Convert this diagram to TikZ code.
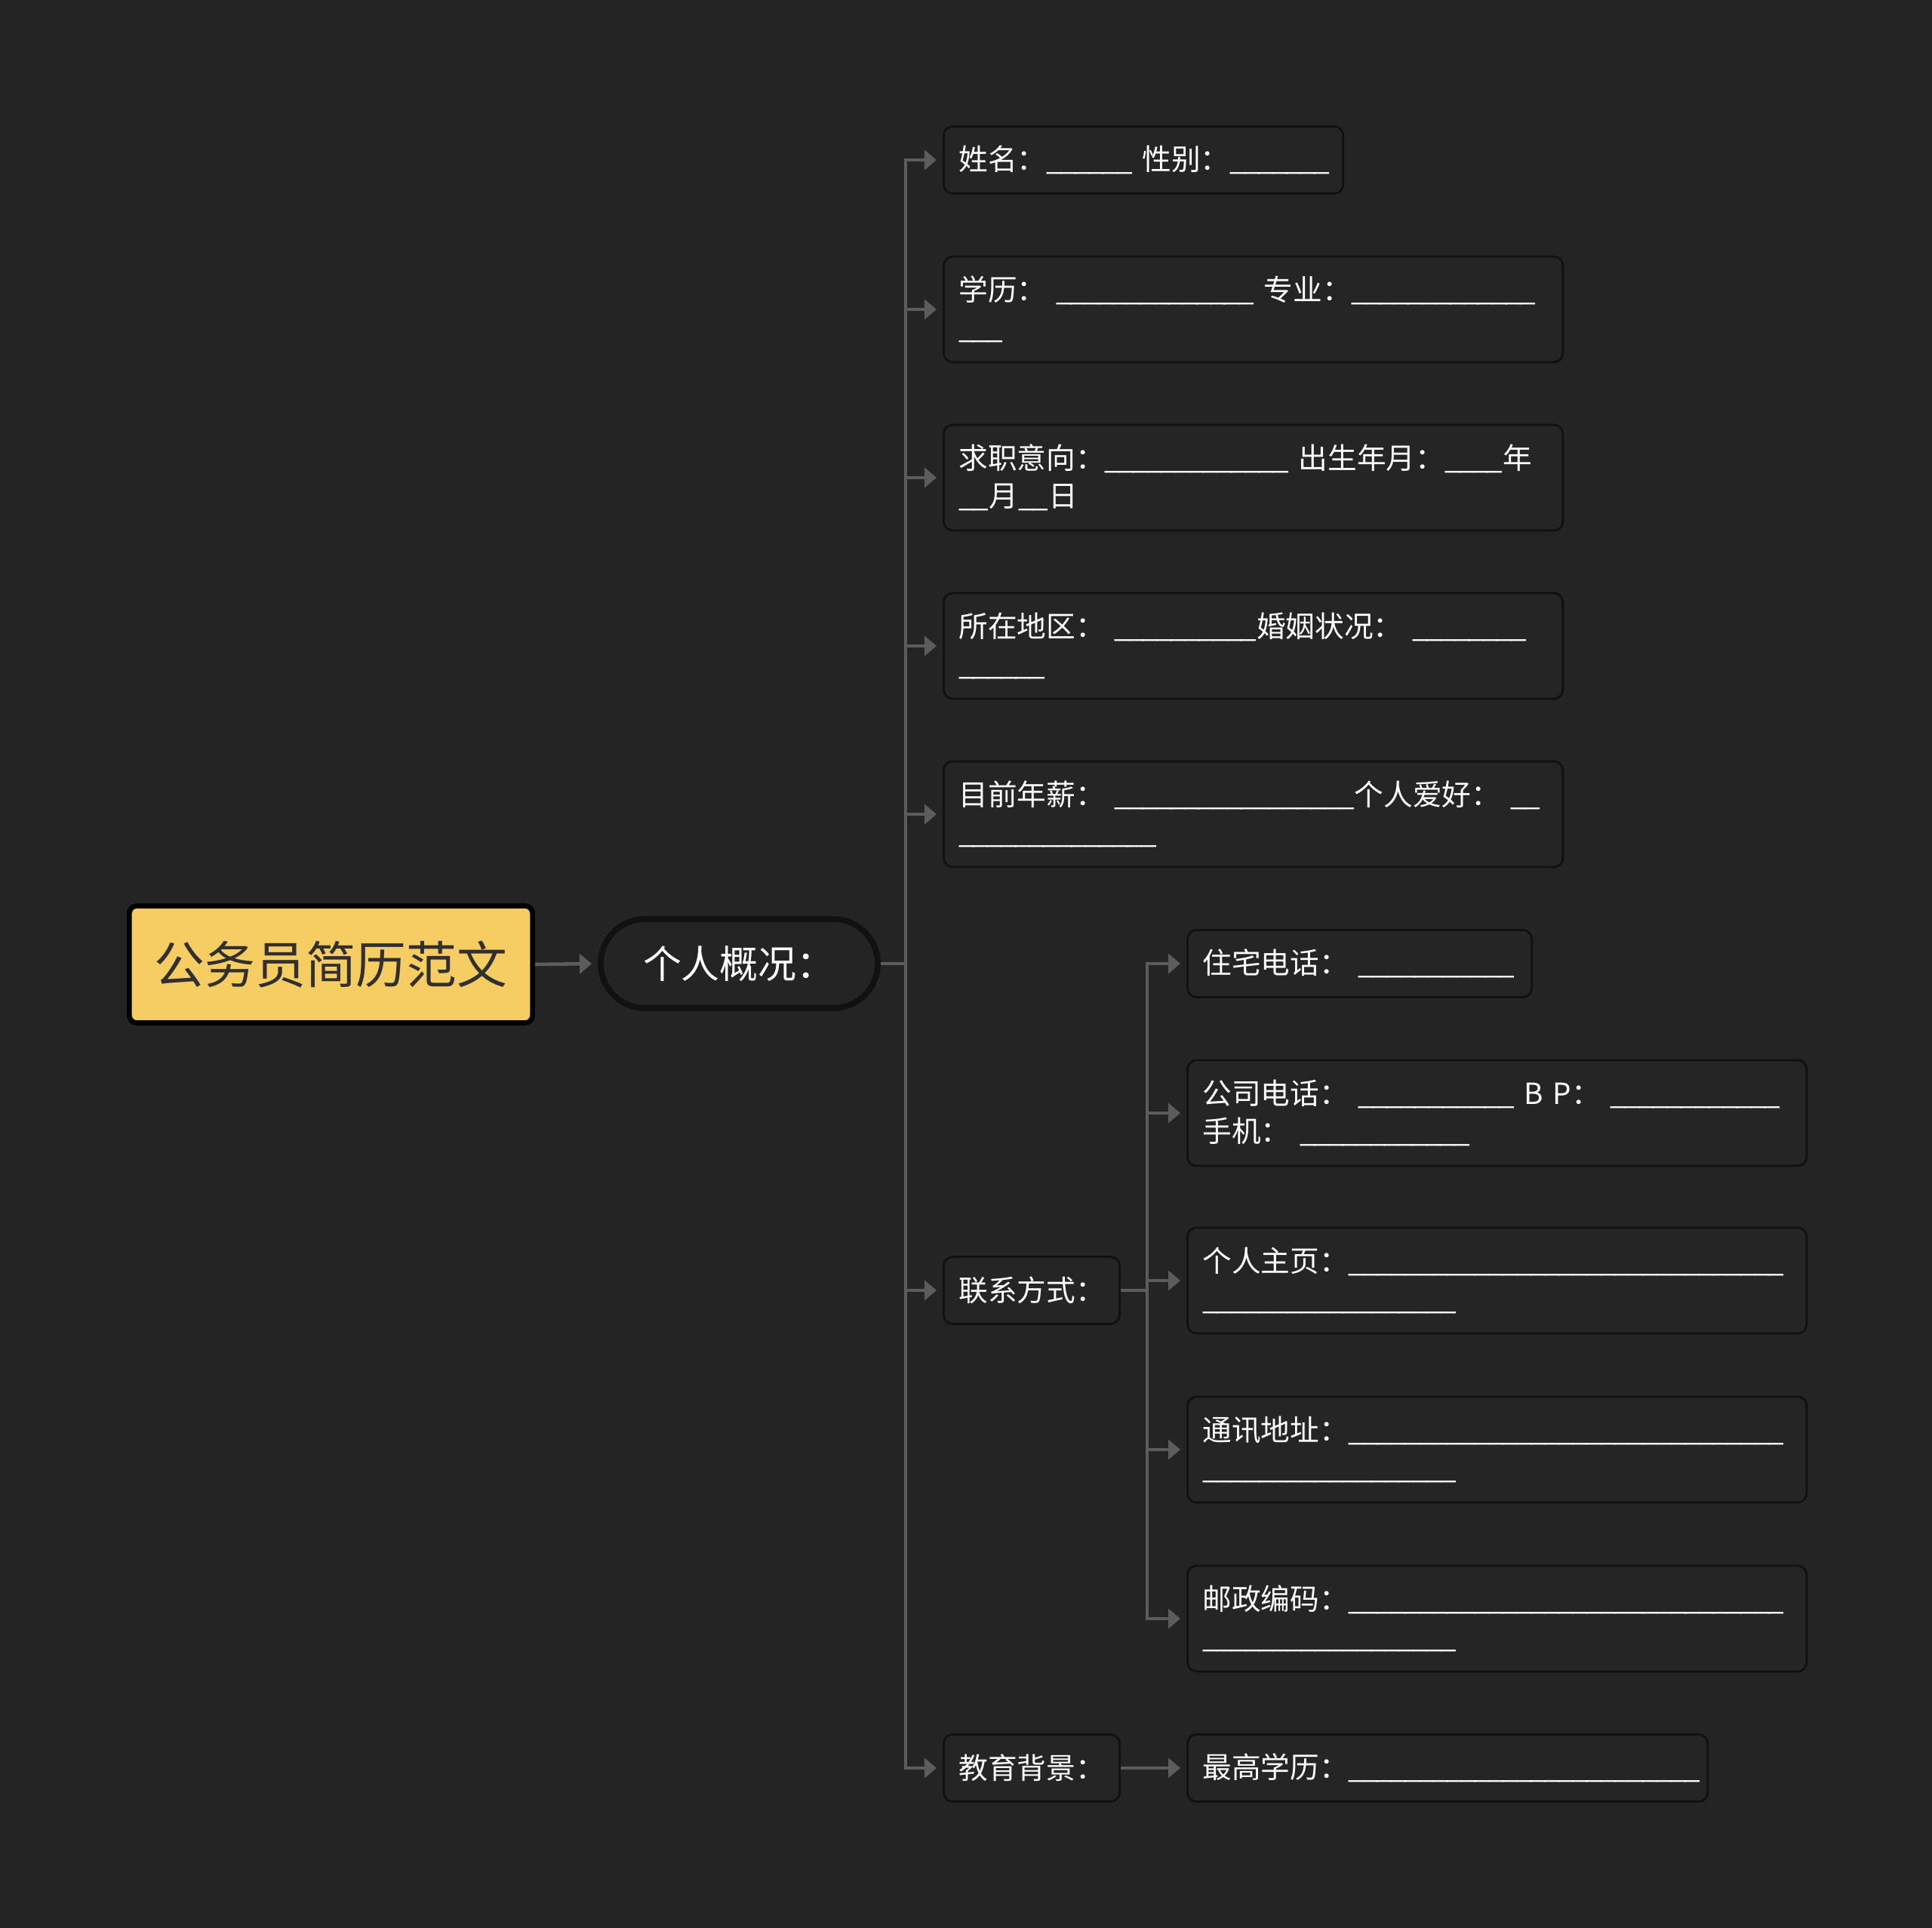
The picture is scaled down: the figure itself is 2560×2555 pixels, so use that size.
\documentclass[tikz,border=0pt]{standalone}
\usepackage{fontspec}
\setmainfont{Noto Sans CJK SC}
\usepackage{xcolor}
\usetikzlibrary{positioning}
\usetikzlibrary{shapes,arrows.meta}

\definecolor{bgdark}{HTML}{242424}
\definecolor{boxfill}{HTML}{252525}
\definecolor{boxline}{HTML}{111111}
\definecolor{linegray}{HTML}{5C5C5C}
\definecolor{rootyellow}{HTML}{F5CD62}
\definecolor{roottext}{HTML}{303030}

% a run of joined underscores
\newcommand{\blanks}[1]{\foreach \k in {1,...,#1}{\_\kern-0.08em}\kern0.08em\relax}

\tikzset{
  rootbox/.style={draw=black, fill=rootyellow, line width=1.9pt, rounded corners=0.1cm,
    text=roottext, font=\fontsize{19pt}{23pt}\selectfont, anchor=west,
    minimum width=5.34cm, minimum height=1.55cm},
  pillbox/.style={draw=boxline, fill=bgdark, line width=2.2pt, rounded corners=0.59cm,
    text=white, font=\fontsize{14.5pt}{18pt}\selectfont, anchor=west,
    minimum width=3.67cm, minimum height=1.18cm},
  leaf/.style={draw=boxline, fill=boxfill, line width=0.8pt, rounded corners=0.12cm,
    text=white, font=\fontsize{11pt}{14.2pt}\selectfont, align=left, anchor=west,
    inner xsep=0.2cm, minimum height=0.89cm},
  tall/.style={minimum height=1.40cm},
  conn/.style={draw=linegray, line width=1.3pt, -{Triangle[length=0.16cm,width=0.26cm]},
    shorten >=0.08cm}
}

\begin{document}
\begin{tikzpicture}[x=0.01cm, y=-0.01cm]
  \fill[bgdark] (0,0) rectangle (2560,2555);
  \useasboundingbox (0,0) rectangle (2560,2555);

  % root and first branch
  \node(root) [rootbox] at (168,1278) {公务员简历范文};
  \node(info) [pillbox] at (792,1277) {个人概况：};

  % personal details
  \node(name) [leaf, text width=4.89cm] at (1249,212) {\mbox{姓名：\blanks{6} 性别：\blanks{7}}};
  \node(edu) [leaf, tall, text width=7.8cm] at (1249,410) {\mbox{学历： \blanks{14} 专业：\blanks{13}}\\\blanks{3}};
  \node(job) [leaf, tall, text width=7.8cm] at (1249,633) {\mbox{求职意向：\blanks{13} 出生年月：\blanks{4}年}\\\blanks{2}月\blanks{2}日};
  \node(area) [leaf, tall, text width=7.8cm] at (1249,856) {\mbox{所在地区： \blanks{10}婚姻状况： \blanks{8}}\\\blanks{6}};
  \node(pay) [leaf, tall, text width=7.8cm] at (1249,1079) {\mbox{目前年薪： \blanks{17}个人爱好： \blanks{2}}\\\blanks{14}};
  \node(contact) [leaf, text width=1.93cm] at (1249,1710) {联系方式：};
  \node(school) [leaf, text width=1.93cm] at (1249,2343) {教育背景：};

  % contact details
  \node(home) [leaf, text width=4.16cm] at (1572,1277) {\mbox{住宅电话： \blanks{11}}};
  \node(office) [leaf, tall, text width=7.8cm] at (1572,1475) {\mbox{公司电话： \blanks{11} B P： \blanks{12}}\\\mbox{手机： \blanks{12}}};
  \node(web) [leaf, tall, text width=7.8cm] at (1572,1697) {\mbox{个人主页：\blanks{31}}\\\blanks{18}};
  \node(addr) [leaf, tall, text width=7.8cm] at (1572,1921) {\mbox{通讯地址：\blanks{31}}\\\blanks{18}};
  \node(post) [leaf, tall, text width=7.8cm] at (1572,2145) {\mbox{邮政编码：\blanks{31}}\\\blanks{18}};
  \node(degree) [leaf, text width=6.49cm] at (1572,2343) {\mbox{最高学历：\blanks{25}}};

  % connectors
  \draw[conn] (root.east) -- (info.west);
  \foreach \n in {name,edu,job,area,pay,contact,school}
    \draw[conn] (info.east) -- ++(33,0) |- (\n.west);
  \foreach \n in {home,office,web,addr,post}
    \draw[conn] (contact.east) -- ++(35,0) |- (\n.west);
  \draw[conn] (school.east) -- (degree.west);
\end{tikzpicture}
\end{document}
